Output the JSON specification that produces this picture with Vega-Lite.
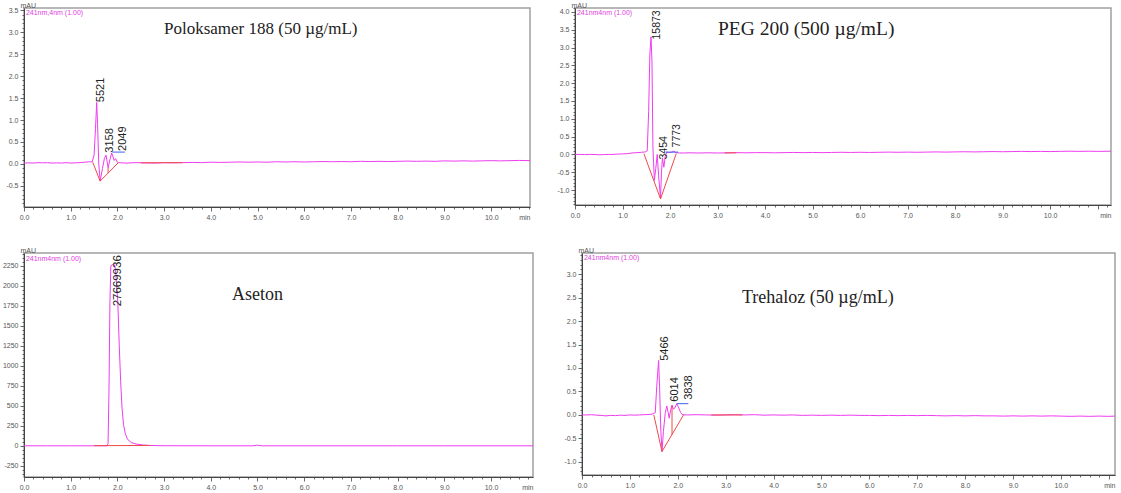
{
  "$schema": "https://vega.github.io/schema/vega-lite/v6.json",
  "background": "white",
  "padding": {"left": 1, "top": 0, "right": 0, "bottom": 0},
  "datasets": {
    "p1s": [
      {"t":0,"v":0.02},{"t":0.1,"v":0.025},{"t":0.2,"v":0.02},{"t":0.3,"v":0.03},{"t":0.4,"v":0.025},{"t":0.5,"v":0.03},{"t":0.6,"v":0.02},{"t":0.7,"v":0.025},{"t":0.8,"v":0.02},{"t":0.9,"v":0.03},{"t":1.0,"v":0.02},{"t":1.1,"v":0.025},{"t":1.2,"v":0.03},{"t":1.3,"v":0.04},{"t":1.4,"v":0.05},{"t":1.46,"v":0.05},
      {"t":1.5,"v":0.2},{"t":1.53,"v":0.8},{"t":1.556,"v":1.4},{"t":1.575,"v":0.9},{"t":1.6,"v":0.0},{"t":1.63,"v":-0.39},{"t":1.68,"v":-0.1},{"t":1.72,"v":0.12},{"t":1.755,"v":0.2},{"t":1.78,"v":0.05},{"t":1.8,"v":-0.09},{"t":1.84,"v":0.1},{"t":1.876,"v":0.25},{"t":1.9,"v":0.18},{"t":1.93,"v":0.08},{"t":1.96,"v":0.12},{"t":1.99,"v":0.05},{"t":2.02,"v":0.03},
      {"t":2.1,"v":0.025},{"t":2.2,"v":0.02},{"t":2.4,"v":0.03},{"t":2.6,"v":0.025},{"t":2.8,"v":0.02},{"t":3.0,"v":0.03},{"t":3.2,"v":0.025},{"t":3.4,"v":0.03},{"t":3.6,"v":0.035},{"t":3.8,"v":0.03},{"t":4.0,"v":0.04},{"t":4.2,"v":0.035},{"t":4.4,"v":0.04},{"t":4.6,"v":0.045},{"t":4.8,"v":0.04},{"t":5.0,"v":0.045},{"t":5.2,"v":0.04},{"t":5.4,"v":0.05},{"t":5.6,"v":0.045},{"t":5.8,"v":0.05},{"t":6.0,"v":0.045},{"t":6.2,"v":0.05},{"t":6.4,"v":0.055},{"t":6.6,"v":0.05},{"t":6.8,"v":0.055},{"t":7.0,"v":0.05},{"t":7.2,"v":0.06},{"t":7.4,"v":0.055},{"t":7.6,"v":0.06},{"t":7.8,"v":0.055},{"t":8.0,"v":0.06},{"t":8.2,"v":0.065},{"t":8.4,"v":0.06},{"t":8.6,"v":0.065},{"t":8.8,"v":0.06},{"t":9.0,"v":0.07},{"t":9.2,"v":0.065},{"t":9.4,"v":0.07},{"t":9.6,"v":0.065},{"t":9.8,"v":0.07},{"t":10.0,"v":0.075},{"t":10.2,"v":0.07},{"t":10.4,"v":0.075},{"t":10.6,"v":0.08},{"t":10.83,"v":0.075}
    ],
    "p1b": [
      {"k":"base","s":"a","t":1.47,"v":0.04},{"k":"base","s":"a","t":1.63,"v":-0.39},{"k":"base","s":"a","t":2.02,"v":0.03},
      {"k":"base","s":"c","t":1.8,"v":-0.09},{"k":"base","s":"c","t":1.8,"v":-0.21},
      {"k":"base","s":"d","t":2.5,"v":0.025},{"k":"base","s":"d","t":3.4,"v":0.03},
      {"k":"mark","s":"e","t":1.89,"v":0.27},{"k":"mark","s":"e","t":2.16,"v":0.27}
    ],
    "p1l": [
      {"t":1.55,"v":1.36,"label":"5521"},{"t":1.73,"v":0.21,"label":"3158"},{"t":2.01,"v":0.25,"label":"2049"}
    ],
    "p1c": [{"t":0.02,"v":3.54,"ch":"241nm,4nm (1.00)"}],
    "p2s": [
      {"t":0,"v":0.0},{"t":0.1,"v":0.0},{"t":0.2,"v":-0.005},{"t":0.3,"v":0.0},{"t":0.4,"v":0.0},{"t":0.5,"v":-0.01},{"t":0.6,"v":-0.005},{"t":0.7,"v":0.0},{"t":0.8,"v":0.0},{"t":0.9,"v":0.01},{"t":1.0,"v":0.015},{"t":1.1,"v":0.02},{"t":1.2,"v":0.04},{"t":1.3,"v":0.05},{"t":1.4,"v":0.06},{"t":1.48,"v":0.07},{"t":1.52,"v":0.1},
      {"t":1.55,"v":1.2},{"t":1.575,"v":2.8},{"t":1.6,"v":3.3},{"t":1.62,"v":2.6},{"t":1.64,"v":0.2},{"t":1.67,"v":-0.73},{"t":1.7,"v":-0.4},{"t":1.73,"v":0.0},{"t":1.76,"v":-0.6},{"t":1.8,"v":-1.25},{"t":1.82,"v":-0.5},{"t":1.84,"v":-0.1},{"t":1.87,"v":-0.36},{"t":1.9,"v":-0.05},{"t":1.93,"v":0.07},{"t":1.97,"v":0.05},{"t":2.03,"v":0.06},{"t":2.08,"v":0.09},{"t":2.12,"v":0.05},{"t":2.2,"v":0.04},
      {"t":2.3,"v":0.04},{"t":2.4,"v":0.045},{"t":2.6,"v":0.04},{"t":2.8,"v":0.045},{"t":3.0,"v":0.04},{"t":3.2,"v":0.045},{"t":3.4,"v":0.05},{"t":3.6,"v":0.045},{"t":3.8,"v":0.05},{"t":4.0,"v":0.05},{"t":4.2,"v":0.045},{"t":4.4,"v":0.05},{"t":4.6,"v":0.055},{"t":4.8,"v":0.05},{"t":5.0,"v":0.055},{"t":5.2,"v":0.05},{"t":5.4,"v":0.055},{"t":5.6,"v":0.06},{"t":5.8,"v":0.055},{"t":6.0,"v":0.06},{"t":6.2,"v":0.055},{"t":6.4,"v":0.06},{"t":6.6,"v":0.065},{"t":6.8,"v":0.06},{"t":7.0,"v":0.065},{"t":7.2,"v":0.06},{"t":7.4,"v":0.065},{"t":7.6,"v":0.07},{"t":7.8,"v":0.065},{"t":8.0,"v":0.07},{"t":8.2,"v":0.075},{"t":8.4,"v":0.07},{"t":8.6,"v":0.075},{"t":8.8,"v":0.08},{"t":9.0,"v":0.075},{"t":9.2,"v":0.08},{"t":9.4,"v":0.085},{"t":9.6,"v":0.08},{"t":9.8,"v":0.085},{"t":10.0,"v":0.08},{"t":10.2,"v":0.085},{"t":10.4,"v":0.09},{"t":10.6,"v":0.085},{"t":10.8,"v":0.09},{"t":11.0,"v":0.085},{"t":11.28,"v":0.09}
    ],
    "p2b": [
      {"k":"base","s":"a","t":1.45,"v":0.02},{"k":"base","s":"a","t":1.8,"v":-1.25},{"k":"base","s":"a","t":2.13,"v":0.02},
      {"k":"base","s":"d","t":3.15,"v":0.04},{"k":"base","s":"d","t":3.4,"v":0.045},
      {"k":"mark","s":"e","t":1.91,"v":0.065},{"k":"mark","s":"e","t":2.17,"v":0.065}
    ],
    "p2l": [
      {"t":1.64,"v":3.17,"label":"15873"},{"t":1.78,"v":-0.2,"label":"3454"},{"t":2.06,"v":0.14,"label":"7773"}
    ],
    "p2c": [{"t":0.02,"v":4.1,"ch":"241nm4nm (1.00)"}],
    "p3s": [
      {"t":0,"v":0},{"t":0.5,"v":0},{"t":1.0,"v":0},{"t":1.5,"v":0},{"t":1.78,"v":0},{"t":1.8,"v":30},{"t":1.82,"v":700},{"t":1.84,"v":1800},{"t":1.86,"v":2250},{"t":1.9,"v":2265},{"t":1.94,"v":2260},{"t":1.96,"v":2200},{"t":1.98,"v":2030},{"t":2.01,"v":1780},{"t":2.04,"v":1250},{"t":2.07,"v":800},{"t":2.1,"v":470},{"t":2.13,"v":270},{"t":2.17,"v":150},{"t":2.22,"v":80},{"t":2.3,"v":40},{"t":2.4,"v":22},{"t":2.55,"v":10},{"t":2.7,"v":4},{"t":3.0,"v":1},{"t":4.0,"v":0},{"t":4.9,"v":0},{"t":5.0,"v":8},{"t":5.1,"v":0},{"t":6.0,"v":0},{"t":7.0,"v":0},{"t":8.0,"v":0},{"t":9.0,"v":0},{"t":10.0,"v":0},{"t":10.9,"v":0}
    ],
    "p3b": [
      {"k":"base","s":"a","t":1.5,"v":2},{"k":"base","s":"a","t":2.7,"v":4}
    ],
    "p3l": [
      {"t":1.9,"v":1718,"label":"27669936"}
    ],
    "p3c": [{"t":0.02,"v":2400,"ch":"241nm4nm (1.00)"}],
    "p4s": [
      {"t":0,"v":0.0},{"t":0.1,"v":0.0},{"t":0.2,"v":0.005},{"t":0.3,"v":-0.005},{"t":0.4,"v":-0.01},{"t":0.5,"v":-0.02},{"t":0.6,"v":-0.01},{"t":0.7,"v":-0.015},{"t":0.8,"v":-0.005},{"t":0.9,"v":-0.01},{"t":1.0,"v":0.0},{"t":1.1,"v":-0.005},{"t":1.2,"v":0.0},{"t":1.3,"v":0.005},{"t":1.4,"v":0.01},{"t":1.48,"v":0.02},{"t":1.53,"v":0.05},
      {"t":1.56,"v":0.6},{"t":1.6,"v":1.16},{"t":1.62,"v":0.6},{"t":1.645,"v":-0.3},{"t":1.67,"v":-0.78},{"t":1.7,"v":-0.35},{"t":1.74,"v":0.05},{"t":1.77,"v":0.19},{"t":1.8,"v":0.05},{"t":1.82,"v":-0.07},{"t":1.85,"v":0.1},{"t":1.88,"v":0.21},{"t":1.91,"v":0.12},{"t":1.94,"v":0.15},{"t":1.98,"v":0.24},{"t":2.02,"v":0.15},{"t":2.06,"v":0.05},{"t":2.09,"v":0.01},{"t":2.15,"v":0.0},
      {"t":2.2,"v":0.0},{"t":2.4,"v":0.005},{"t":2.6,"v":0.0},{"t":2.8,"v":-0.005},{"t":3.0,"v":0.0},{"t":3.2,"v":0.005},{"t":3.4,"v":0.0},{"t":3.6,"v":0.005},{"t":3.8,"v":-0.005},{"t":4.0,"v":0.0},{"t":4.2,"v":-0.005},{"t":4.4,"v":0.0},{"t":4.6,"v":-0.01},{"t":4.8,"v":-0.005},{"t":5.0,"v":-0.01},{"t":5.2,"v":-0.005},{"t":5.4,"v":-0.01},{"t":5.6,"v":-0.005},{"t":5.8,"v":-0.01},{"t":6.0,"v":-0.01},{"t":6.2,"v":-0.015},{"t":6.4,"v":-0.01},{"t":6.6,"v":-0.015},{"t":6.8,"v":-0.01},{"t":7.0,"v":-0.015},{"t":7.2,"v":-0.01},{"t":7.4,"v":-0.015},{"t":7.6,"v":-0.02},{"t":7.8,"v":-0.015},{"t":8.0,"v":-0.02},{"t":8.2,"v":-0.015},{"t":8.4,"v":-0.02},{"t":8.6,"v":-0.02},{"t":8.8,"v":-0.025},{"t":9.0,"v":-0.02},{"t":9.2,"v":-0.025},{"t":9.4,"v":-0.02},{"t":9.6,"v":-0.025},{"t":9.8,"v":-0.02},{"t":10.0,"v":-0.025},{"t":10.2,"v":-0.03},{"t":10.4,"v":-0.025},{"t":10.6,"v":-0.03},{"t":10.8,"v":-0.025},{"t":11.0,"v":-0.03},{"t":11.13,"v":-0.025}
    ],
    "p4b": [
      {"k":"base","s":"a","t":1.5,"v":0.0},{"k":"base","s":"a","t":1.67,"v":-0.78},{"k":"base","s":"a","t":2.12,"v":0.0},
      {"k":"base","s":"c","t":1.88,"v":0.2},{"k":"base","s":"c","t":1.88,"v":-0.42},
      {"k":"base","s":"d","t":2.7,"v":0.0},{"k":"base","s":"d","t":3.35,"v":0.0},
      {"k":"mark","s":"e","t":1.98,"v":0.24},{"k":"mark","s":"e","t":2.22,"v":0.24}
    ],
    "p4l": [
      {"t":1.62,"v":1.11,"label":"5466"},{"t":1.84,"v":0.24,"label":"6014"},{"t":2.12,"v":0.28,"label":"3838"}
    ],
    "p4c": [{"t":0.02,"v":3.44,"ch":"241nm4nm (1.00)"}]
  },
  "vconcat": [
    {
      "hconcat": [
        {
          "width": 506, "height": 199,
          "title": {"text": "Poloksamer 188 (50 µg/mL)", "fontSize": 17, "dx": 140, "offset": -37},
          "encoding": {
            "x": {"field": "t", "type": "quantitative", "scale": {"domain": [0, 10.83], "nice": false, "zero": false},
              "axis": {"values": [0,0.2,0.4,0.6,0.8,1,1.2,1.4,1.6,1.8,2,2.2,2.4,2.6,2.8,3,3.2,3.4,3.6,3.8,4,4.2,4.4,4.6,4.8,5,5.2,5.4,5.6,5.8,6,6.2,6.4,6.6,6.8,7,7.2,7.4,7.6,7.8,8,8.2,8.4,8.6,8.8,9,9.2,9.4,9.6,9.8,10,10.2,10.4,10.6,10.8],
                "labelExpr": "datum.value === round(datum.value) && datum.value < 10.5 ? format(datum.value, '.1f') : ''",
                "tickSize": {"condition": {"test": "datum.value === round(datum.value)", "value": 4}, "value": 2},
                "title": "min", "titleX": 506, "titleY": 6, "titleAlign": "right", "titleBaseline": "top", "titleFontSize": 7}},
            "y": {"field": "v", "type": "quantitative", "scale": {"domain": [-0.98, 3.55], "nice": false, "zero": false},
              "axis": {"values": [-0.9,-0.8,-0.7,-0.6,-0.5,-0.4,-0.3,-0.2,-0.1,0,0.1,0.2,0.3,0.4,0.5,0.6,0.7,0.8,0.9,1,1.1,1.2,1.3,1.4,1.5,1.6,1.7,1.8,1.9,2,2.1,2.2,2.3,2.4,2.5,2.6,2.7,2.8,2.9,3,3.1,3.2,3.3,3.4,3.5],
                "labelExpr": "abs(datum.value*2 - round(datum.value*2)) < 0.000001 ? replace(format(datum.value, '.1f'), '−', '-') : ''",
                "tickSize": {"condition": {"test": "abs(datum.value*2 - round(datum.value*2)) < 0.000001", "value": 4}, "value": 2},
                "title": "mAU", "titleAngle": 0, "titleAlign": "left", "titleBaseline": "alphabetic", "titleX": -4, "titleY": -1}}
          },
          "layer": [
            {"data": {"name": "p1s"}, "mark": {"type": "line", "color": "#f03cf0", "strokeWidth": 1}},
            {"data": {"name": "p1b"}, "mark": {"type": "line", "strokeWidth": 1},
              "encoding": {"color": {"field": "k", "type": "nominal", "scale": {"domain": ["base", "mark"], "range": ["#f04a4a", "#4060f0"]}, "legend": null}, "detail": {"field": "s", "type": "nominal"}}},
            {"data": {"name": "p1l"}, "mark": {"type": "text", "angle": 270, "align": "left", "baseline": "top", "dx": 2, "dy": -1, "font": "Liberation Sans", "fontSize": 11, "color": "#222"},
              "encoding": {"text": {"field": "label"}}},
            {"data": {"name": "p1c"}, "mark": {"type": "text", "align": "left", "baseline": "top", "dx": 1, "dy": 1, "font": "Liberation Sans", "fontSize": 7, "color": "#e040e0"},
              "encoding": {"text": {"field": "ch"}}}
          ]
        },
        {
          "width": 536, "height": 197,
          "title": {"text": "PEG 200 (500 µg/mL)", "fontSize": 19.5, "dx": 143, "offset": -38},
          "encoding": {
            "x": {"field": "t", "type": "quantitative", "scale": {"domain": [0, 11.28], "nice": false, "zero": false},
              "axis": {"values": [0,0.2,0.4,0.6,0.8,1,1.2,1.4,1.6,1.8,2,2.2,2.4,2.6,2.8,3,3.2,3.4,3.6,3.8,4,4.2,4.4,4.6,4.8,5,5.2,5.4,5.6,5.8,6,6.2,6.4,6.6,6.8,7,7.2,7.4,7.6,7.8,8,8.2,8.4,8.6,8.8,9,9.2,9.4,9.6,9.8,10,10.2,10.4,10.6,10.8,11,11.2],
                "labelExpr": "datum.value === round(datum.value) && datum.value < 10.5 ? format(datum.value, '.1f') : ''",
                "tickSize": {"condition": {"test": "datum.value === round(datum.value)", "value": 4}, "value": 2},
                "title": "min", "titleX": 536, "titleY": 6, "titleAlign": "right", "titleBaseline": "top", "titleFontSize": 7}},
            "y": {"field": "v", "type": "quantitative", "scale": {"domain": [-1.42, 4.11], "nice": false, "zero": false},
              "axis": {"values": [-1.4,-1.3,-1.2,-1.1,-1,-0.9,-0.8,-0.7,-0.6,-0.5,-0.4,-0.3,-0.2,-0.1,0,0.1,0.2,0.3,0.4,0.5,0.6,0.7,0.8,0.9,1,1.1,1.2,1.3,1.4,1.5,1.6,1.7,1.8,1.9,2,2.1,2.2,2.3,2.4,2.5,2.6,2.7,2.8,2.9,3,3.1,3.2,3.3,3.4,3.5,3.6,3.7,3.8,3.9,4,4.1],
                "labelExpr": "abs(datum.value*2 - round(datum.value*2)) < 0.000001 ? replace(format(datum.value, '.1f'), '−', '-') : ''",
                "tickSize": {"condition": {"test": "abs(datum.value*2 - round(datum.value*2)) < 0.000001", "value": 4}, "value": 2},
                "title": "mAU", "titleAngle": 0, "titleAlign": "left", "titleBaseline": "alphabetic", "titleX": -4, "titleY": -1}}
          },
          "layer": [
            {"data": {"name": "p2s"}, "mark": {"type": "line", "color": "#f03cf0", "strokeWidth": 1}},
            {"data": {"name": "p2b"}, "mark": {"type": "line", "strokeWidth": 1},
              "encoding": {"color": {"field": "k", "type": "nominal", "scale": {"domain": ["base", "mark"], "range": ["#f04a4a", "#4060f0"]}, "legend": null}, "detail": {"field": "s", "type": "nominal"}}},
            {"data": {"name": "p2l"}, "mark": {"type": "text", "angle": 270, "align": "left", "baseline": "top", "dx": 2, "dy": -1, "font": "Liberation Sans", "fontSize": 10.5, "color": "#222"},
              "encoding": {"text": {"field": "label"}}},
            {"data": {"name": "p2c"}, "mark": {"type": "text", "align": "left", "baseline": "top", "dx": 1, "dy": 1, "font": "Liberation Sans", "fontSize": 7, "color": "#e040e0"},
              "encoding": {"text": {"field": "ch"}}}
          ]
        }
      ],
      "spacing": 23
    },
    {
      "hconcat": [
        {
          "width": 509, "height": 224,
          "title": {"text": "Aseton", "fontSize": 18, "dx": 208, "offset": -58},
          "encoding": {
            "x": {"field": "t", "type": "quantitative", "scale": {"domain": [0, 10.9], "nice": false, "zero": false},
              "axis": {"values": [0,0.2,0.4,0.6,0.8,1,1.2,1.4,1.6,1.8,2,2.2,2.4,2.6,2.8,3,3.2,3.4,3.6,3.8,4,4.2,4.4,4.6,4.8,5,5.2,5.4,5.6,5.8,6,6.2,6.4,6.6,6.8,7,7.2,7.4,7.6,7.8,8,8.2,8.4,8.6,8.8,9,9.2,9.4,9.6,9.8,10,10.2,10.4,10.6,10.8],
                "labelExpr": "datum.value === round(datum.value) && datum.value < 10.5 ? format(datum.value, '.1f') : ''",
                "tickSize": {"condition": {"test": "datum.value === round(datum.value)", "value": 4}, "value": 2},
                "title": "min", "titleX": 509, "titleY": 6, "titleAlign": "right", "titleBaseline": "top", "titleFontSize": 7}},
            "y": {"field": "v", "type": "quantitative", "scale": {"domain": [-390, 2410], "nice": false, "zero": false},
              "axis": {"values": [-350,-300,-250,-200,-150,-100,-50,0,50,100,150,200,250,300,350,400,450,500,550,600,650,700,750,800,850,900,950,1000,1050,1100,1150,1200,1250,1300,1350,1400,1450,1500,1550,1600,1650,1700,1750,1800,1850,1900,1950,2000,2050,2100,2150,2200,2250,2300,2350,2400],
                "labelExpr": "datum.value % 250 === 0 ? toString(datum.value) : ''",
                "tickSize": {"condition": {"test": "datum.value % 250 === 0", "value": 4}, "value": 2},
                "title": "mAU", "titleAngle": 0, "titleAlign": "left", "titleBaseline": "alphabetic", "titleX": -4, "titleY": -1}}
          },
          "layer": [
            {"data": {"name": "p3s"}, "mark": {"type": "line", "color": "#f03cf0", "strokeWidth": 1}},
            {"data": {"name": "p3b"}, "mark": {"type": "line", "strokeWidth": 1},
              "encoding": {"color": {"field": "k", "type": "nominal", "scale": {"domain": ["base", "mark"], "range": ["#f04a4a", "#4060f0"]}, "legend": null}, "detail": {"field": "s", "type": "nominal"}}},
            {"data": {"name": "p3l"}, "mark": {"type": "text", "angle": 270, "align": "left", "baseline": "top", "dx": 2, "dy": -1, "font": "Liberation Sans", "fontSize": 11.5, "color": "#222"},
              "encoding": {"text": {"field": "label"}}},
            {"data": {"name": "p3c"}, "mark": {"type": "text", "align": "left", "baseline": "top", "dx": 1, "dy": 1, "font": "Liberation Sans", "fontSize": 7, "color": "#e040e0"},
              "encoding": {"text": {"field": "ch"}}}
          ]
        },
        {
          "width": 533, "height": 222,
          "title": {"text": "Trehaloz (50 µg/mL)", "fontSize": 18, "dx": 160, "offset": -61},
          "encoding": {
            "x": {"field": "t", "type": "quantitative", "scale": {"domain": [0, 11.13], "nice": false, "zero": false},
              "axis": {"values": [0,0.2,0.4,0.6,0.8,1,1.2,1.4,1.6,1.8,2,2.2,2.4,2.6,2.8,3,3.2,3.4,3.6,3.8,4,4.2,4.4,4.6,4.8,5,5.2,5.4,5.6,5.8,6,6.2,6.4,6.6,6.8,7,7.2,7.4,7.6,7.8,8,8.2,8.4,8.6,8.8,9,9.2,9.4,9.6,9.8,10,10.2,10.4,10.6,10.8,11],
                "labelExpr": "datum.value === round(datum.value) && datum.value < 10.5 ? format(datum.value, '.1f') : ''",
                "tickSize": {"condition": {"test": "datum.value === round(datum.value)", "value": 4}, "value": 2},
                "title": "min", "titleX": 533, "titleY": 6, "titleAlign": "right", "titleBaseline": "top", "titleFontSize": 7}},
            "y": {"field": "v", "type": "quantitative", "scale": {"domain": [-1.28, 3.45], "nice": false, "zero": false},
              "axis": {"values": [-1.2,-1.1,-1,-0.9,-0.8,-0.7,-0.6,-0.5,-0.4,-0.3,-0.2,-0.1,0,0.1,0.2,0.3,0.4,0.5,0.6,0.7,0.8,0.9,1,1.1,1.2,1.3,1.4,1.5,1.6,1.7,1.8,1.9,2,2.1,2.2,2.3,2.4,2.5,2.6,2.7,2.8,2.9,3,3.1,3.2,3.3,3.4],
                "labelExpr": "abs(datum.value*2 - round(datum.value*2)) < 0.000001 ? replace(format(datum.value, '.1f'), '−', '-') : ''",
                "tickSize": {"condition": {"test": "abs(datum.value*2 - round(datum.value*2)) < 0.000001", "value": 4}, "value": 2},
                "title": "mAU", "titleAngle": 0, "titleAlign": "left", "titleBaseline": "alphabetic", "titleX": -4, "titleY": -1}}
          },
          "layer": [
            {"data": {"name": "p4s"}, "mark": {"type": "line", "color": "#f03cf0", "strokeWidth": 1}},
            {"data": {"name": "p4b"}, "mark": {"type": "line", "strokeWidth": 1},
              "encoding": {"color": {"field": "k", "type": "nominal", "scale": {"domain": ["base", "mark"], "range": ["#f04a4a", "#4060f0"]}, "legend": null}, "detail": {"field": "s", "type": "nominal"}}},
            {"data": {"name": "p4l"}, "mark": {"type": "text", "angle": 270, "align": "left", "baseline": "top", "dx": 2, "dy": -1, "font": "Liberation Sans", "fontSize": 11, "color": "#222"},
              "encoding": {"text": {"field": "label"}}},
            {"data": {"name": "p4c"}, "mark": {"type": "text", "align": "left", "baseline": "top", "dx": 1, "dy": 1, "font": "Liberation Sans", "fontSize": 7, "color": "#e040e0"},
              "encoding": {"text": {"field": "ch"}}}
          ]
        }
      ],
      "spacing": 27
    }
  ],
  "spacing": 24,
  "config": {
    "view": {"stroke": "#a0a0a0", "strokeWidth": 1.5},
    "axis": {"domainColor": "#444", "tickColor": "#444", "labelColor": "#555", "labelFont": "Liberation Sans", "labelFontSize": 7, "titleFont": "Liberation Sans", "titleFontSize": 7, "titleFontWeight": "normal", "titleColor": "#555", "grid": false, "labelOverlap": false, "labelFlush": false, "labelPadding": 2, "domainWidth": 1, "tickWidth": 0.8},
    "title": {"font": "Liberation Serif", "fontWeight": "normal", "color": "#222", "anchor": "start", "frame": "group", "baseline": "middle"}
  }
}
